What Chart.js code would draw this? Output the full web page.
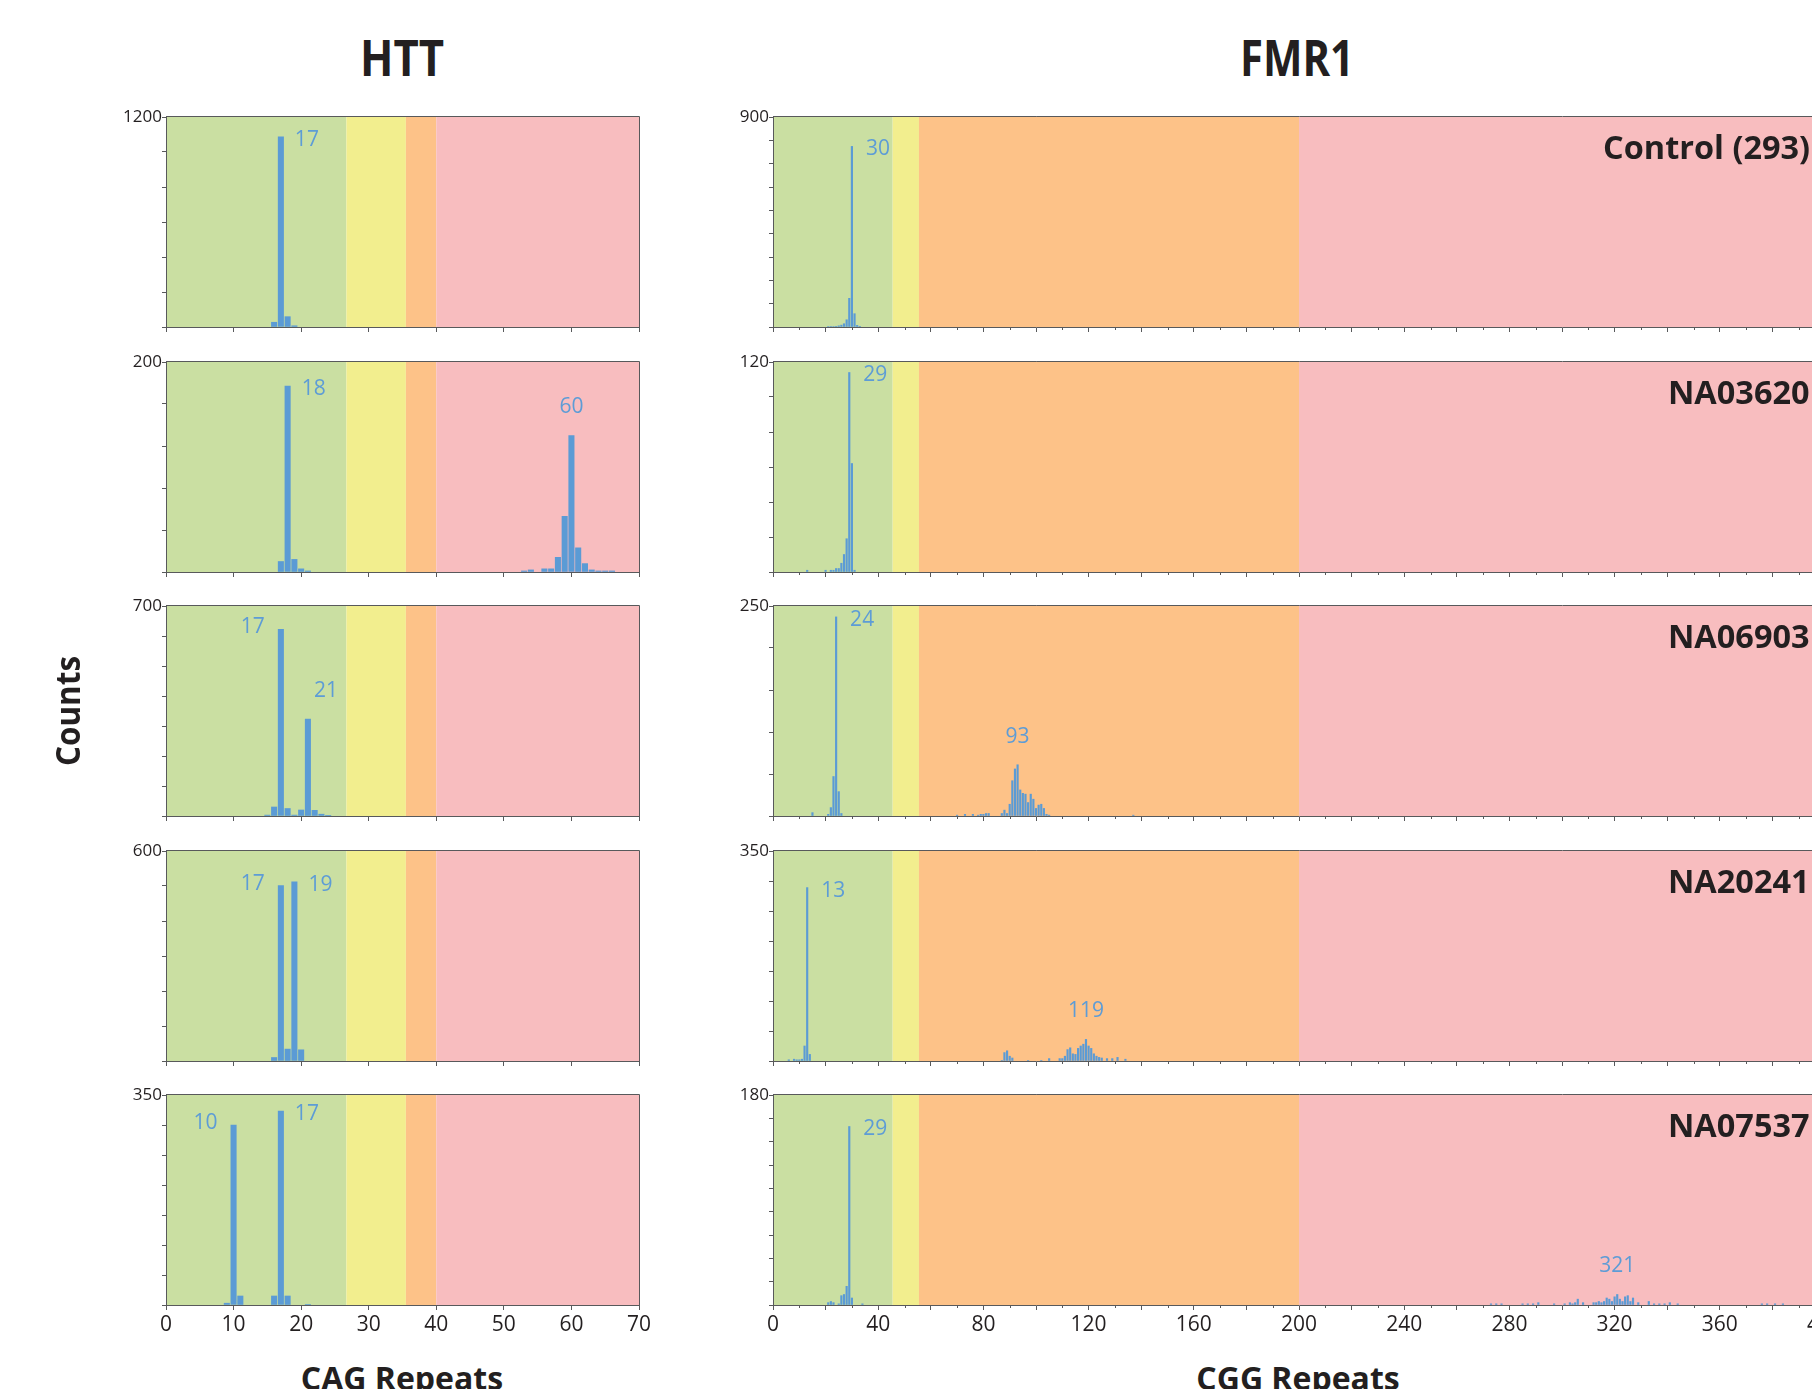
<!DOCTYPE html>
<html>
<head>
<meta charset="utf-8">
<script src="https://cdn.jsdelivr.net/npm/chart.js"></script>
<style>
html,body{margin:0;padding:0;background:#fff;}
body{width:1812px;height:1389px;overflow:hidden;position:relative;font-family:'Open Sans',sans-serif;color:#231f20;}
canvas{position:absolute;}
.t{position:absolute;white-space:nowrap;line-height:1;font-weight:700;}
</style>
</head>
<body>
<script>
// ============================================================
//  DATA  (repeat length, read count)
// ============================================================
const SAMPLES=['Control (293)','NA03620','NA06903','NA20241','NA07537'];

// HTT - CAG repeats
const httControl=[[16,27],[17,1086],[18,59],[19,7]];
const httNA03620=[[17,10],[18,177],[19,12],[20,3],[21,1],[53,1],[54,2],[56,3],[57,3],[58,14],[59,53],[60,130],[61,23],[62,8],[63,2],[64,1],[65,1],[66,1]];
const httNA06903=[[15,3],[16,30],[17,622],[18,25],[19,3],[20,20],[21,323],[22,19],[23,6],[24,1]];
const httNA20241=[[16,10],[17,501],[18,34],[19,512],[20,32]];
const httNA07537=[[9,3],[10,300],[11,15],[16,15],[17,323],[18,15],[21,1]];

// FMR1 - CGG repeats
const fmrControl=[[21,2],[22,2],[23,2],[24,3],[25,5],[26,8],[27,14],[28,31],[29,123],[30,774],[31,57],[32,7],[33,3]];
const fmrNA03620=[[13,1],[20,1],[22,1],[23,1],[24,2],[25,2],[26,5],[27,10],[28,19],[29,114],[30,62],[31,1]];
const fmrNA06903=[[15,4],[21,2],[22,10],[23,47],[24,237],[25,29],[26,3],[70,1],[73,2],[76,2],[78,1],[79,2],[80,2],[81,3],[82,3],
  [87,3],[88,7],[89,3],[90,14],[91,42],[92,56],[93,61],[94,31],[95,27],[96,26],[97,16],[98,26],[99,20],[100,9],[101,13],[102,14],[103,9],[104,2],[105,1],[137,1]];
const fmrNA20241=[[6,2],[8,3],[9,2],[10,2],[11,3],[12,25],[13,289],[14,11],[87,1],[88,14],[89,17],[90,8],[91,5],[97,1],[102,1],[105,4],
  [109,4],[110,4],[111,8],[112,19],[113,22],[114,12],[115,11],[116,21],[117,25],[118,28],[119,36],[120,25],[121,21],[122,12],[123,8],[124,6],[125,5],[127,4],[129,4],[131,6],[134,3]];
const fmrNA07537=[[21,2],[22,3],[23,2],[25,1],[26,8],[27,9],[28,16],[29,153],[30,6],[34,1],
  [273,1],[275,1],[277,1],[285,1],[287,1],[289,1],[291,2],[297,1],[301,1],[303,2],[304,1],[305,2],[306,5],[308,2],
  [312,2],[313,2],[314,3],[315,2],[316,3],[317,6],[318,5],[319,3],[320,7],[321,9],[322,5],[323,3],[324,7],[325,8],[326,3],[327,6],[329,2],
  [333,3],[335,1],[337,1],[339,1],[341,2],[344,1],[376,1],[378,1],[381,1],[384,1]];

const HTT_YMAX=[1200,200,700,600,350];
const HTT_YSTEP=[200,40,100,100,50];
const FMR_YMAX=[900,120,250,350,180];
const FMR_YSTEP=[100,20,50,50,20];

const HTT_XLABELS=[0,10,20,30,40,50,60,70];
const FMR_XLABELS=[0,40,80,120,160,200,240,280,320,360,400];

// labelled alleles and where their label sits (r=right, l=left, a=above, ur=upper right)
const HTT_PEAKS=[[17],[18,60],[17,21],[17,19],[10,17]];
const HTT_SIDES=[['r'],['r','a'],['l','ur'],['l','r'],['l','r']];
const FMR_PEAKS=[[30],[29],[24,93],[13,119],[29,321]];
const FMR_SIDES=[['r'],['r'],['r','a'],['r','a'],['r','a']];

// normal / intermediate / reduced penetrance(premutation) / full
const HTT_ZONES=[0,26.7,35.5,40,70];
const FMR_ZONES=[0,45.5,55.5,200,400];
const ZONE_COLORS=['#cadfa2','#f2ee8e','#fdc288','#f8bdbf'];

// ============================================================
//  LAYOUT
// ============================================================
const BAR='#5b9bd5', LABEL='#5d9cd6', AXIS='#58595b', INK='#231f20';
const PANEL_TOP=[117,362,606,851,1095], PANEL_H=210;
const YW=70, XH=50, PT=14, PR=30;

Chart.defaults.font.family="'Open Sans', sans-serif";

const COLS=[
  {left:166,width:473,xmax:70,xstep:10,minor:0,bar:5.4,data:[httControl,httNA03620,httNA06903,httNA20241,httNA07537],
   ymax:HTT_YMAX,ystep:HTT_YSTEP,xlabels:HTT_XLABELS,peaks:HTT_PEAKS,sides:HTT_SIDES,zones:HTT_ZONES},
  {left:773,width:1052,xmax:400,xstep:20,minor:10,bar:1.5,data:[fmrControl,fmrNA03620,fmrNA06903,fmrNA20241,fmrNA07537],
   ymax:FMR_YMAX,ystep:FMR_YSTEP,xlabels:FMR_XLABELS,peaks:FMR_PEAKS,sides:FMR_SIDES,zones:FMR_ZONES},
];

function decor(col,row){
  return {
    id:'decor',
    beforeDraw(chart){
      const {ctx,chartArea:a,scales:{x}}=chart;
      ctx.save();
      for(let i=0;i<ZONE_COLORS.length;i++){
        const x0=x.getPixelForValue(col.zones[i]), x1=x.getPixelForValue(col.zones[i+1]);
        ctx.fillStyle=ZONE_COLORS[i];
        ctx.fillRect(x0,a.top,x1-x0,a.bottom-a.top);
      }
      ctx.restore();
    },
    afterDatasetsDraw(chart){
      const {ctx,chartArea:a,scales:{x,y}}=chart;
      ctx.save();
      ctx.strokeStyle=AXIS; ctx.lineWidth=1;
      ctx.beginPath();
      ctx.moveTo(a.left,a.top-0.5); ctx.lineTo(a.right+0.5,a.top-0.5); ctx.lineTo(a.right+0.5,a.bottom);
      if(col.minor){
        for(let v=col.minor;v<col.xmax;v+=2*col.minor){
          const px=Math.round(x.getPixelForValue(v))+0.5;
          ctx.moveTo(px,a.bottom); ctx.lineTo(px,a.bottom+3);
        }
      }
      ctx.stroke();
      ctx.fillStyle=LABEL; ctx.font="21px 'Open Sans'"; ctx.textBaseline='middle';
      col.peaks[row].forEach((p,i)=>{
        const n=col.data[row].find(d=>d[0]===p)[1];
        const px=x.getPixelForValue(p), py=y.getPixelForValue(n);
        const side=col.sides[row][i];
        if(side==='r'){ctx.textAlign='left';ctx.fillText(p,px+14,py+3);}
        else if(side==='l'){ctx.textAlign='right';ctx.fillText(p,px-16,py-2);}
        else if(side==='ur'){ctx.textAlign='left';ctx.fillText(p,px+6,py-28);}
        else{ctx.textAlign='center';ctx.fillText(p,px,py-28);}
      });
      ctx.restore();
    }
  };
}

function makePanel(col,row){
  const cv=document.createElement('canvas');
  const w=YW+col.width+PR, h=PT+PANEL_H+XH;
  cv.width=w; cv.height=h;
  cv.style.cssText=`left:${col.left-YW}px;top:${PANEL_TOP[row]-PT}px;width:${w}px;height:${h}px`;
  document.body.appendChild(cv);
  const last=row===PANEL_TOP.length-1;
  const ymax=col.ymax[row];
  new Chart(cv,{
    type:'bar',
    data:{datasets:[{data:col.data[row].map(d=>({x:d[0],y:d[1]})),backgroundColor:BAR,borderWidth:0,barThickness:col.bar}]},
    options:{
      responsive:false,animation:false,
      layout:{autoPadding:false,padding:{top:PT,right:PR,left:0,bottom:0}},
      plugins:{legend:{display:false},tooltip:{enabled:false}},
      scales:{
        x:{type:'linear',min:0,max:col.xmax,offset:false,afterFit:s=>{s.height=XH;},
           ticks:{stepSize:col.xstep,autoSkip:false,maxRotation:0,maxTicksLimit:100,padding:2,color:INK,font:{size:21},
                  callback:v=>last&&col.xlabels.includes(v)?String(v):''},
           grid:{drawOnChartArea:false,offset:false,tickLength:5,tickColor:AXIS,tickWidth:1},
           border:{color:AXIS,width:1}},
        y:{min:0,max:ymax,afterFit:s=>{s.width=YW;},
           ticks:{stepSize:col.ystep[row],autoSkip:false,padding:0,color:INK,font:{size:17},
                  callback:v=>v===ymax?String(v):''},
           grid:{drawOnChartArea:false,tickLength:4,tickColor:AXIS,tickWidth:1},
           border:{color:AXIS,width:1}}
      }
    },
    plugins:[decor(col,row)]
  });
}

COLS.forEach(col=>PANEL_TOP.forEach((_,row)=>makePanel(col,row)));

// ---- titles ----
function text(s,fs,o){
  const el=document.createElement('div');
  el.className='t'; el.textContent=s; el.style.fontSize=fs+'px';
  document.body.appendChild(el);
  const k=o.w?o.w/el.offsetWidth:o.k;
  if(o.rot){
    el.style.left=o.cx+'px'; el.style.top=o.cy+'px';
    el.style.transform=`translate(-50%,-50%) rotate(-90deg) scaleX(${k})`;
  }else if(o.right!=null){
    el.style.right=o.right+'px'; el.style.top=(o.cy-0.53*fs)+'px';
    el.style.transformOrigin='right center'; el.style.transform=`scaleX(${k})`;
  }else{
    el.style.left=o.cx+'px'; el.style.top=(o.cy-0.53*fs)+'px';
    el.style.transform=`translateX(-50%) scaleX(${k})`;
  }
  return k;
}
text('HTT',50,{cx:402,cy:58,w:84});
text('FMR1',50,{cx:1297,cy:58,w:114});
text('CAG Repeats',32,{cx:402,cy:1379,w:202});
text('CGG Repeats',32,{cx:1298,cy:1379,w:203});
text('Counts',34,{cx:67,cy:711,w:110,rot:true});
let kName=1;
SAMPLES.forEach((s,i)=>{
  const k=text(s,32,i===0?{right:2,cy:PANEL_TOP[i]+31,w:207}:{right:2,cy:PANEL_TOP[i]+31,k:kName});
  if(i===0) kName=k;
});
</script>
</body>
</html>
